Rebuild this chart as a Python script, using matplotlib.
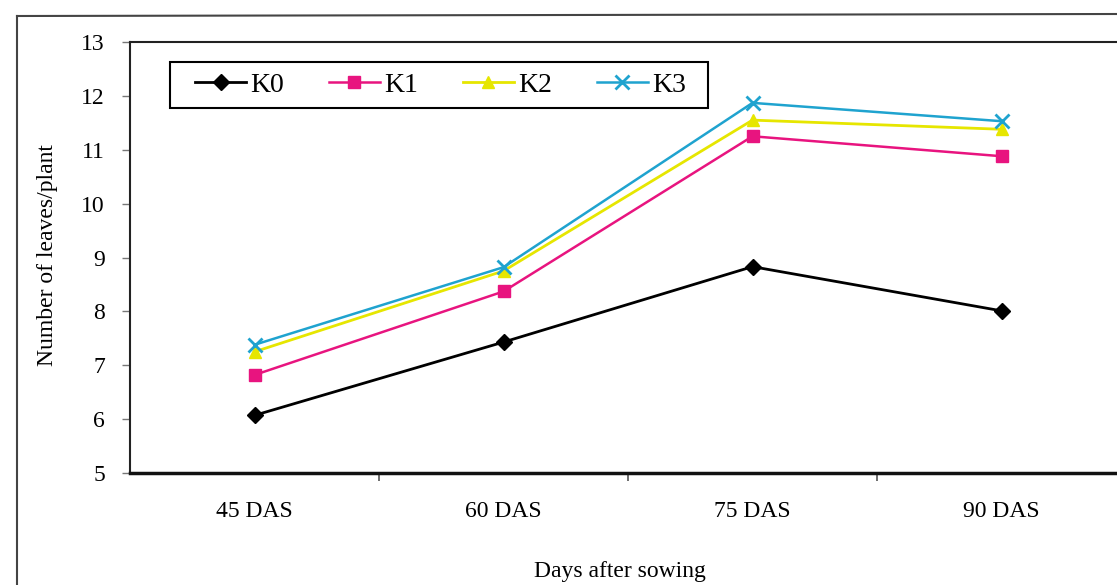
import numpy as np
import matplotlib
matplotlib.use("Agg")
import matplotlib.pyplot as plt
from matplotlib.lines import Line2D
from matplotlib.patches import Rectangle

# stages and leaf counts
stages = ["45 DAS", "60 DAS", "75 DAS", "90 DAS"]
k0 = [6.07, 7.43, 8.83, 8.01]
k1 = [6.82, 8.37, 11.25, 10.88]
k2 = [7.25, 8.75, 11.55, 11.38]
k3 = [7.38, 8.82, 11.87, 11.53]
series_names = ["K0", "K1", "K2", "K3"]
y_ticks = [5, 6, 7, 8, 9, 10, 11, 12, 13]

plt.rcParams['font.family'] = ['Liberation Serif', 'DejaVu Serif']

W, H = 1117, 585
fig = plt.figure(figsize=(W / 100, H / 100), dpi=100)
fig.patch.set_facecolor("white")

# axes extends past the right edge, like the cropped scan
ax = fig.add_axes([130 / W, 1 - 473 / H, 996 / W, 431 / H])

x = np.arange(len(stages))
styles = [
    dict(color="black", marker="D", ms=8, lw=2.0),
    dict(color="#E8147F", marker="s", ms=9, lw=1.8),
    dict(color="#E6E600", marker="^", ms=8, lw=2.0),
    dict(color="#1FA3CF", marker="x", ms=10, mew=2.0, lw=1.8),
]
for vals, name, st in zip([k0, k1, k2, k3], series_names, styles):
    ax.plot(x, vals, label=name, **st)

ax.set_xlim(-0.5, 3.5)
ax.set_ylim(5, 13)
ax.set_yticks(y_ticks)
ax.set_xticks(x)
ax.set_xticklabels(stages)
ax.set_xticks([0.5, 1.5, 2.5], minor=True)
ax.tick_params(axis="x", which="major", length=0, pad=20, labelsize=17)
ax.tick_params(axis="x", which="minor", length=6, width=1.2, direction="out", color="#555555")
ax.tick_params(axis="y", length=6, width=1.0, pad=12, labelsize=17, color="#777777")

for side in ["left", "top", "right"]:
    ax.spines[side].set_linewidth(1.5)
    ax.spines[side].set_color("#222222")
ax.spines["bottom"].set_linewidth(2.5)
ax.spines["bottom"].set_color("#111111")

ax.set_ylabel("Number of leaves/plant", fontsize=17)
ax.yaxis.label.set_va("center")
ax.yaxis.set_label_coords(-0.083, 0.506)
ax.set_xlabel("Days after sowing", fontsize=17)
ax.xaxis.set_label_coords(0.492, -0.205)

# legend box drawn separately so the entries can sit where the scan has them
ax.add_patch(Rectangle((0.040, 0.847), 0.540, 0.107, transform=ax.transAxes,
                       facecolor="white", edgecolor="black", lw=1.5, zorder=4))
leg = ax.legend(loc="center left", bbox_to_anchor=(0.0653, 0.900), ncol=4,
                fontsize=20, frameon=False, handlelength=1.85, handletextpad=0.15,
                borderpad=0, borderaxespad=0, columnspacing=1.6)
leg.set_zorder(5)

# outer chart frame from the scan
fig.add_artist(Line2D([17 / W, 17 / W], [0, 1 - 16 / H], transform=fig.transFigure,
                      color="#444444", lw=1.5))
fig.add_artist(Line2D([17 / W, 1], [1 - 16 / H, 1 - 14 / H], transform=fig.transFigure,
                      color="#444444", lw=1.5))

fig.savefig("out.png", dpi=100)
